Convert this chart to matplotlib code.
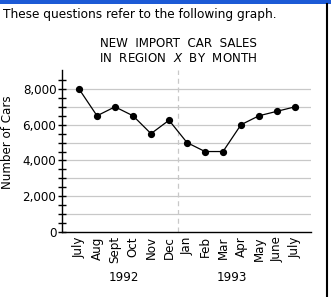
import matplotlib
matplotlib.use("Agg")
import matplotlib.pyplot as plt
from matplotlib.patches import Rectangle
from matplotlib.lines import Line2D

months = ["July", "Aug", "Sept", "Oct", "Nov", "Dec", "Jan",
          "Feb", "Mar", "Apr", "May", "June", "July"]
sales = [8000, 6500, 7000, 6500, 5500, 6250, 5000,
         4500, 4500, 6000, 6500, 6750, 7000]
years = ["1992", "1993"]
year_centers = [2.5, 8.5]
year_break = 5.5
major_ticks = [0, 2000, 4000, 6000, 8000]
tick_labels = ["0", "2,000", "4,000", "6,000", "8,000"]

plt.rcParams["font.family"] = ["DejaVu Sans"]
FS = 8.6

W, H = 331, 297
fig = plt.figure(figsize=(W / 100, H / 100), dpi=100)
fig.set_facecolor("white")

# window chrome: blue strip on top, border on the right
fig.patches.append(Rectangle((0, 1 - 4 / H), 1, 4 / H, transform=fig.transFigure,
                             facecolor="#1c5ad6", edgecolor="none"))
fig.lines.append(Line2D([326.5 / W, 326.5 / W], [0, 1 - 4 / H], transform=fig.transFigure,
                        color="black", linewidth=1.5))

fig.text(3 / W, 1 - 18 / H, "These questions refer to the following graph.",
         fontsize=8.7, ha="left", va="baseline")
fig.text(178 / W, 1 - 47 / H, "NEW  IMPORT  CAR  SALES", fontsize=FS,
         ha="center", va="baseline")
fig.text(178 / W, 1 - 62 / H, "IN  REGION  $X$  BY  MONTH", fontsize=FS,
         ha="center", va="baseline")

ax = fig.add_axes([62 / W, 1 - 232 / H, 249 / W, 162 / H])
x = list(range(len(months)))

for level in range(1000, 9000, 1000):
    ax.axhline(level, color="#c8c8c8", linewidth=0.9, zorder=1)
ax.axvline(year_break, color="#c8c8c8", linewidth=0.9, linestyle=(0, (4, 3)), zorder=1)

ax.plot(x, sales, color="black", marker="o", markersize=4.2, linewidth=0.9, zorder=3)

ax.set_xlim(-17 / 18, 232 / 18)
ax.set_ylim(0, 9060)

ax.spines["top"].set_visible(False)
ax.spines["right"].set_visible(False)
ax.spines["left"].set_linewidth(1.0)
ax.spines["bottom"].set_linewidth(1.0)

ax.set_yticks(major_ticks)
ax.set_yticklabels(tick_labels, fontsize=FS)
ax.set_yticks(range(500, 9000, 500), minor=True)
ax.tick_params(axis="y", which="major", direction="inout", length=6, width=1, pad=1)
ax.tick_params(axis="y", which="minor", direction="inout", length=6, width=1)

ax.set_xticks(x)
ax.set_xticklabels(months, rotation=90, fontsize=FS)
ax.tick_params(axis="x", length=0, pad=3)

ax.set_ylabel("Number of Cars", fontsize=FS)
ax.yaxis.set_label_coords(-0.193, 0.552)

for yr, xc in zip(years, year_centers):
    ax.text(xc, -0.278, yr, transform=ax.get_xaxis_transform(), fontsize=FS,
            ha="center", va="center")

fig.savefig("out.png", dpi=100, facecolor="white")
